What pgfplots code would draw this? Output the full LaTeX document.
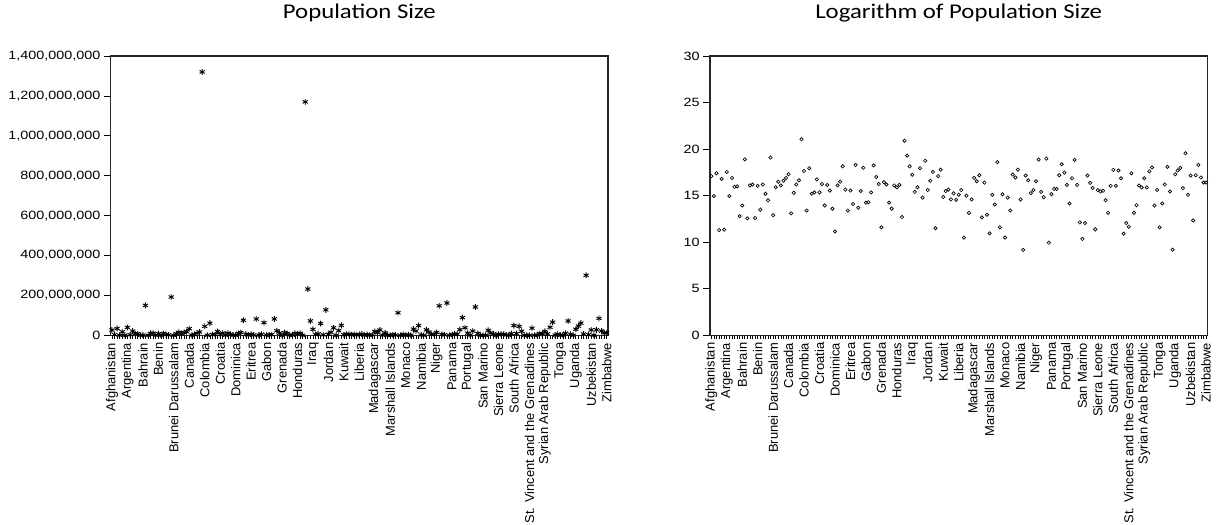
\documentclass[border=0pt]{standalone}
\usepackage{fontspec}
\setmainfont{Liberation Sans}
\newfontfamily\carlito{Carlito}
\usepackage{pgfplots}
\usepackage{pgfplotstable}
\pgfplotsset{compat=1.18}
% i = observation index, pop = population (millions), lp = log of population
\pgfplotstableread{
i pop lp
0 26.3 17.1
1 3.1 14.95
2 34 17.4
3 0.081 11.3
4 17.6 16.8
5 0.085 11.35
6 39.3 17.55
7 3.1 14.95
8 21 16.9
9 8.3 15.95
10 8.6 16.0
11 0.33 12.8
12 1.1 13.95
13 150 18.9
14 0.29 12.55
15 9.7 16.1
16 10.6 16.2
17 0.29 12.6
18 8.4 16.05
19 0.66 13.5
20 9.5 16.2
21 3.8 15.2
22 1.9 14.5
23 192 19.1
24 0.39 12.9
25 7.7 15.9
26 14.7 16.5
27 8.1 16.1
28 14.4 16.6
29 18.7 16.9
30 33 17.3
31 0.49 13.1
32 4.3 15.3
33 10.8 16.2
34 16.6 16.65
35 1320 21.05
36 45 17.65
37 0.63 13.4
38 61 17.95
39 3.6 15.2
40 4.4 15.35
41 19.3 16.75
42 4.4 15.35
43 11.3 16.25
44 0.79 13.95
45 10.3 16.15
46 5.5 15.55
47 0.83 13.6
48 0.072 11.15
49 9.8 16.1
50 13.6 16.5
51 75.5 18.15
52 6.1 15.65
53 0.63 13.4
54 4.9 15.55
55 1.34 14.1
56 82 18.3
57 0.83 13.7
58 5.3 15.5
59 63.6 18.0
60 1.4 14.25
61 1.6 14.3
62 4.4 15.35
63 82.3 18.25
64 23 17.0
65 11.2 16.25
66 0.104 11.6
67 13.3 16.45
68 9.4 16.2
69 1.5 14.25
70 0.77 13.6
71 9.6 16.1
72 7.2 15.9
73 10.1 16.15
74 0.31 12.7
75 1170 20.9
76 232 19.3
77 72 18.15
78 30 17.25
79 4.4 15.4
80 7.2 15.9
81 59.3 17.95
82 2.7 14.8
83 127.8 18.75
84 5.7 15.6
85 15.5 16.6
86 37.8 17.55
87 0.095 11.5
88 23.7 17.1
89 50 17.8
90 2.8 14.85
91 5.2 15.5
92 6 15.65
93 2.3 14.6
94 4.1 15.25
95 2 14.55
96 3.6 15.1
97 6.1 15.6
98 0.035 10.5
99 3.4 15.0
100 0.48 13.15
101 2.04 14.6
102 19.2 16.9
103 14 16.55
104 26.8 17.2
105 0.31 12.67
106 12.7 16.4
107 0.41 12.95
108 0.057 10.95
109 3.1 15.1
110 1.26 14.05
111 113 18.6
112 0.11 11.6
113 3.8 15.15
114 0.035 10.5
115 2.6 14.8
116 0.62 13.4
117 30.9 17.27
118 21.9 16.95
119 48.8 17.8
120 2.1 14.6
121 0.0098 9.17
122 27.6 17.16
123 16.4 16.66
124 4.2 15.27
125 5.6 15.6
126 14.1 16.55
127 148 18.87
128 4.7 15.4
129 2.7 14.84
130 162 18.98
131 0.02 9.95
132 3.3 15.16
133 6.4 15.73
134 6.1 15.73
135 28.5 17.2
136 88.9 18.37
137 38.1 17.48
138 10.6 16.16
139 1.2 14.16
140 21.5 16.87
141 142 18.84
142 9.5 16.16
143 0.18 12.13
144 0.031 10.35
145 0.16 12.06
146 25 17.16
147 11.9 16.37
148 7.4 15.84
149 0.086 11.38
150 5.4 15.59
151 4.6 15.45
152 5.4 15.52
153 2 14.52
154 0.5 13.16
155 8.7 16.05
156 48.9 17.77
157 9.3 16.05
158 44.9 17.7
159 20 16.87
160 0.05 10.92
161 0.17 12.06
162 0.11 11.67
163 36 17.4
164 0.51 13.16
165 1.15 13.98
166 9.1 16.09
167 7.6 15.88
168 19.9 16.87
169 7 15.88
170 40.5 17.62
171 66 18.02
172 1.05 13.95
173 6 15.63
174 0.1 11.6
175 1.3 14.16
176 10.2 16.2
177 72 18.09
178 5 15.45
179 0.0098 9.2
180 30.6 17.3
181 46.4 17.7
182 61 17.98
183 7 15.8
184 301 19.55
185 3.3 15.09
186 27 17.16
187 0.23 12.34
188 27.5 17.2
189 85 18.3
190 22 16.95
191 12.3 16.41
192 12.5 16.41
}\data

\pgfplotsset{
  popaxis/.style={
    scale only axis, width=373pt, height=209.5pt, anchor=south west,
    xmin=-0.5, xmax=192.5,
    xtick={0,6,...,192}, minor xtick={0,...,192},
    xticklabels={Afghanistan,Argentina,Bahrain,Benin,Brunei Darussalam,Canada,Colombia,Croatia,Dominica,Eritrea,Gabon,Grenada,Honduras,Iraq,Jordan,Kuwait,Liberia,Madagascar,Marshall Islands,Monaco,Namibia,Niger,Panama,Portugal,San Marino,Sierra Leone,South Africa,St. Vincent and the Grenadines,Syrian Arab Republic,Tonga,Uganda,Uzbekistan,Zimbabwe},
    tick pos=left, tick align=outside,
    major tick length=5pt, minor tick length=2.5pt,
    tick style={black, line width=0.5pt},
    major x tick style={draw=none},
    xticklabel style={font=\fontsize{9.7}{10}\selectfont, rotate=90, anchor=east, inner sep=0.4pt},
    yticklabel style={font=\fontsize{9}{10}\selectfont, inner sep=2.5pt},
    axis line style={black!85, line width=1pt},
    clip=false,
    title style={font=\carlito\fontsize{15.75}{18}\selectfont, anchor=base, at={(0.5,1)}, yshift=21.75pt},
  }
}
\newcommand{\yl}[1]{\scalebox{1.2}[1]{#1}}

\begin{document}
\begin{tikzpicture}
\useasboundingbox (0,0) rectangle (919.5pt,393pt);
\fill[white] (0,0) rectangle (919.5pt,393pt);
\clip (0,0) rectangle (919.5pt,393pt);

\begin{axis}[popaxis, at={(83pt,141.5pt)},
  title={\scalebox{1.18}[1]{Population Size}},
  ymin=0, ymax=1400,
  ytick={0,200,400,600,800,1000,1200,1400},
  yticklabels={\yl{0},\yl{200,000,000},\yl{400,000,000},\yl{600,000,000},\yl{800,000,000},\yl{1,000,000,000},\yl{1,200,000,000},\yl{1,400,000,000}},
]
\addplot[only marks, mark=asterisk, mark size=2.2pt, mark options={line width=0.7pt, black}] table[x=i, y=pop] {\data};
\end{axis}

\begin{axis}[popaxis, at={(532.5pt,141.5pt)},
  title={\scalebox{1.18}[1]{Logarithm of Population Size}},
  ymin=0, ymax=30,
  ytick={0,5,10,15,20,25,30},
  yticklabels={\yl{0},\yl{5},\yl{10},\yl{15},\yl{20},\yl{25},\yl{30}},
]
\addplot[only marks, mark=o, mark size=1.25pt, mark options={line width=0.5pt, black}] table[x=i, y=lp] {\data};
\end{axis}
\end{tikzpicture}
\end{document}
